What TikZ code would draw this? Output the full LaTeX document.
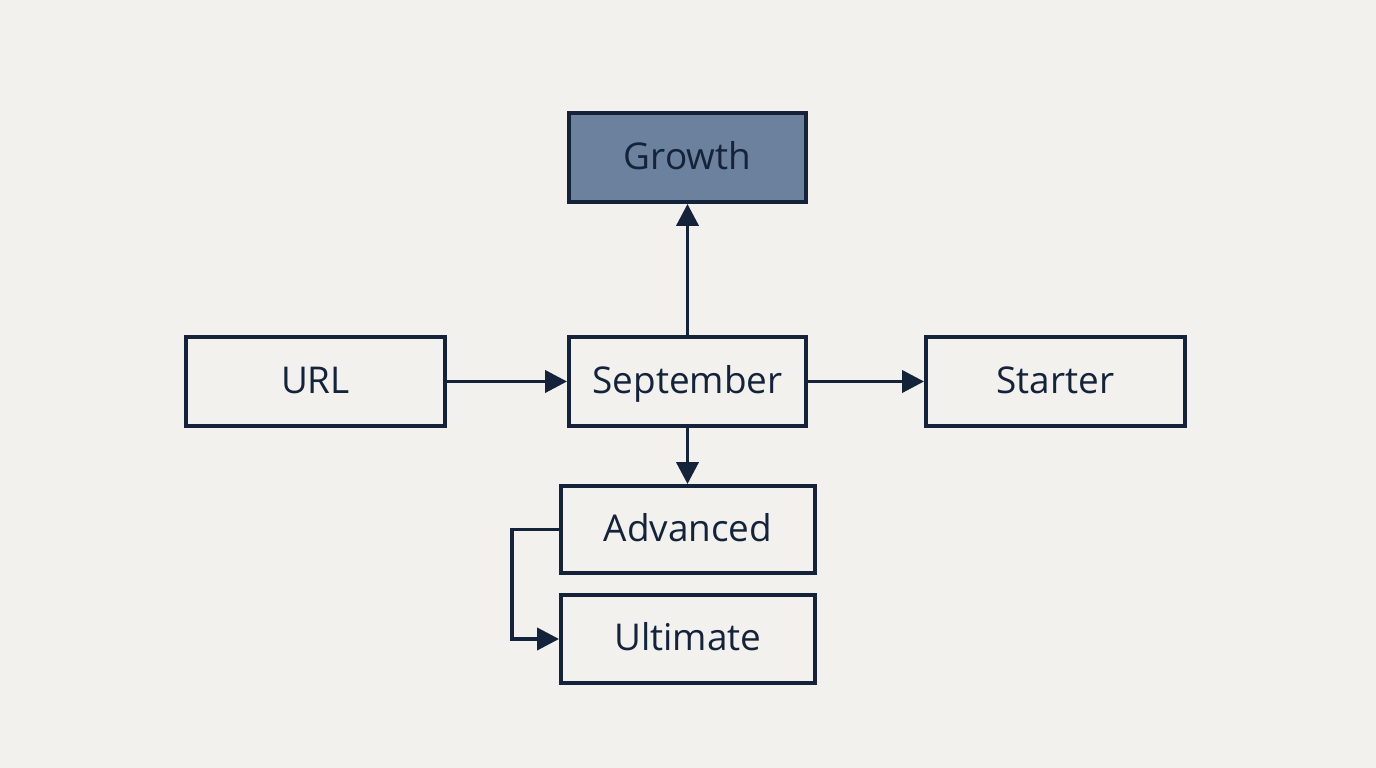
\documentclass[tikz,border=0pt]{standalone}
\usepackage{fontspec}
\setmainfont{Open Sans}
\usetikzlibrary{positioning,arrows.meta}
\definecolor{ink}{HTML}{14233A}
\definecolor{paper}{HTML}{F2F1EE}
\definecolor{steel}{HTML}{6C819D}
\tikzset{
    box/.style = {draw = ink, line width = 1.1pt, minimum height = .89cm, text = ink,
                  font = \fontsize{10.5}{12}\selectfont, inner sep = 0pt,
                  text height = 1.6ex, text depth = .35ex},
    link/.style = {draw = ink, line width = 1.1pt, -{Triangle[length=2.2mm, width=2.2mm]}}
}

\begin{document}
\begin{tikzpicture}
    \fill [paper] (0, 0) rectangle (13.76, 7.68);
    \useasboundingbox (0, 0) rectangle (13.76, 7.68);

    \node [box, minimum width = 2.37cm] (sep) at (6.875, 3.865) {September};
    \node [box, minimum width = 2.37cm, fill = steel] (growth) at (6.875, 6.105) {Growth};
    \node [box, minimum width = 2.59cm] (url) at (3.155, 3.865) {URL};
    \node [box, minimum width = 2.59cm] (starter) at (10.555, 3.865) {Starter};
    \node [box, minimum width = 2.54cm, minimum height = .87cm] (adv) at (6.88, 2.385) {Advanced};
    \node [box, minimum width = 2.54cm, minimum height = .88cm] (ult) at (6.88, 1.29) {Ultimate};

    \coordinate (bendtop) at (5.12, 2.385);
    \coordinate (bendlow) at (5.12, 1.29);

    \draw [link] (url) -- (sep);
    \draw [link] (sep) -- (starter);
    \draw [link] (sep) -- (growth);
    \draw [link] (sep.south) -- (sep.south |- adv.north);
    \draw [link] (adv.west) -- (bendtop) -- (bendlow) -- (ult.west);

\end{tikzpicture}
\end{document}
